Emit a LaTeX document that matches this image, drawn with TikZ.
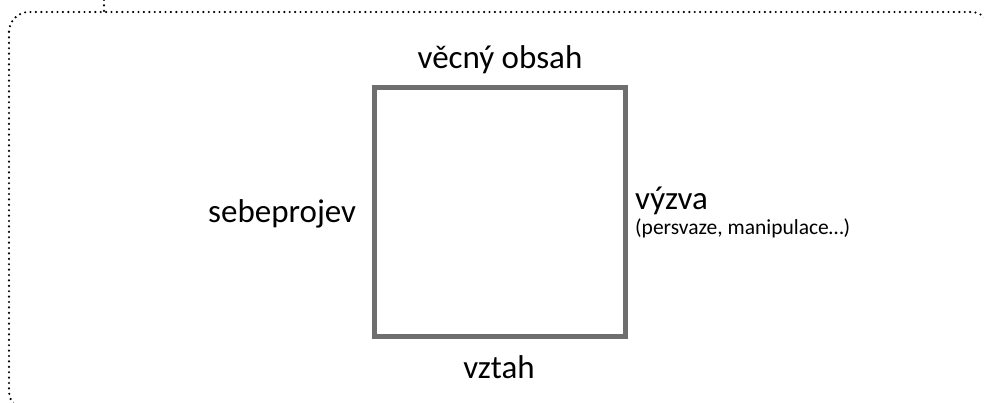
\documentclass[tikz,border=0pt]{standalone}
\usepackage{fontspec}
\setmainfont{Carlito}
\definecolor{boxgray}{HTML}{6E6E6E}
\tikzset{
  lbl/.style={inner sep=0pt, font=\fontsize{33}{36}\selectfont, text=black},
  smalllbl/.style={inner sep=0pt, font=\fontsize{21.5}{24}\selectfont, text=black},
  frame/.style={draw=black, line width=2.4pt, dash pattern=on 0pt off 5.4pt, line cap=round},
  sq/.style={draw=boxgray, line width=5pt, minimum width=251pt, minimum height=249pt, inner sep=0pt}
}
\begin{document}
\begin{tikzpicture}[x=1pt,y=-1pt]
\useasboundingbox (0,0) rectangle (984,402);
\begin{scope}
\clip (0,0) rectangle (984,402);
\draw[frame, rounded corners=20pt] (9,12) rectangle (991,411);
\coordinate (t1) at (104,0);
\coordinate (t2) at (104,12);
\draw[frame] (t1) -- (t2);
\end{scope}
\node[sq] (box) at (500,212) {};
\node[lbl, anchor=base] (top) at (500,68) {věcný obsah};
\node[lbl, anchor=base] (bottom) at (499,378) {vztah};
\node[lbl, anchor=base west] (left) at (208,222) {sebeprojev};
\node[lbl, anchor=base west] (right) at (635,209) {výzva};
\node[smalllbl, anchor=base west] (rightsub) at (635,234) {(persvaze, manipulace…)};
\end{tikzpicture}
\end{document}
